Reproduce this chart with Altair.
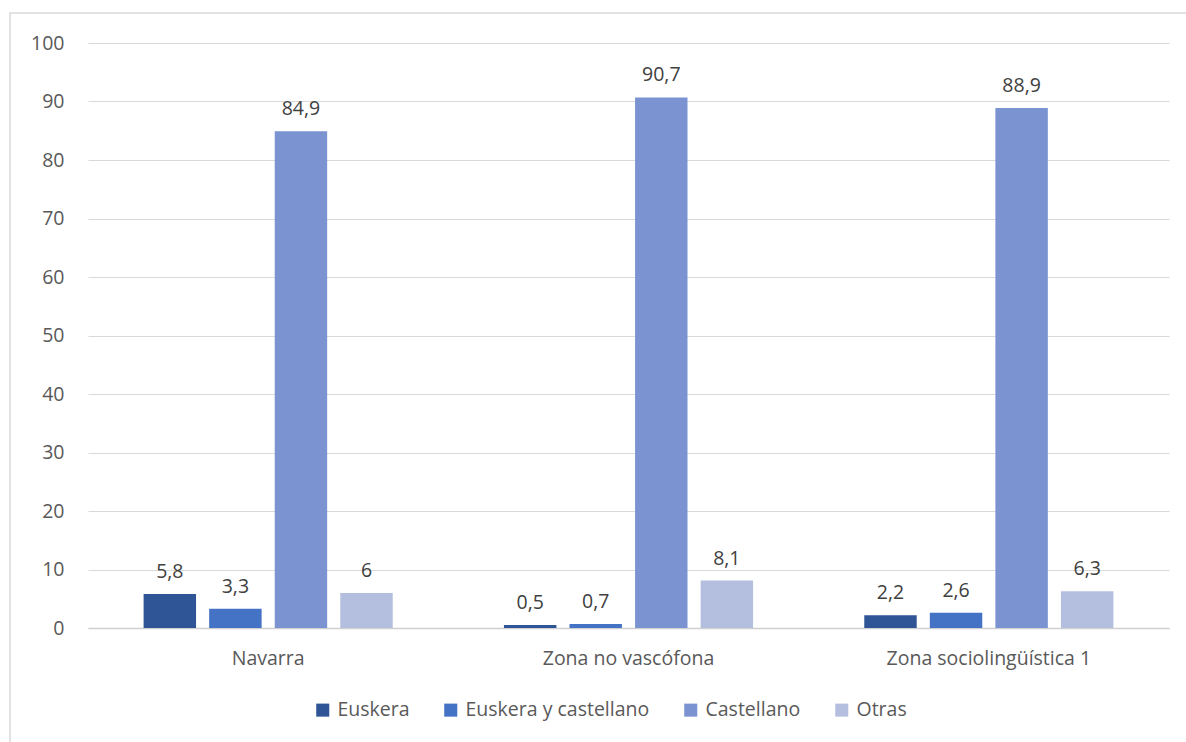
import altair as alt
import pandas as pd

zonas = ["Navarra", "Zona no vascófona", "Zona sociolingüística 1"]
lenguas = ["Euskera", "Euskera y castellano", "Castellano", "Otras"]
euskera = [5.8, 0.5, 2.2]
euskera_cast = [3.3, 0.7, 2.6]
castellano = [84.9, 90.7, 88.9]
otras = [6.0, 8.1, 6.3]
colores = ["#2F5597", "#4472C4", "#7B94D1", "#B4BFE0"]

series = [euskera, euskera_cast, castellano, otras]
rows = []
for li, vals in zip(lenguas, series):
    for z, v in zip(zonas, vals):
        lab = (f"{v:g}").replace(".", ",")
        rows.append({"zona": z, "lengua": li, "valor": v, "label": lab})
df = pd.DataFrame(rows)

W, H = 1081, 585
font = "Open Sans"
FS = 19.5

x = alt.X("zona:N", sort=zonas, title=None,
          scale=alt.Scale(paddingInner=0, paddingOuter=0),
          axis=alt.Axis(labelAngle=0, labelFontSize=FS, labelColor="#595959",
                        labelFont=font, ticks=False, domainColor="#D0D0D0",
                        domainWidth=1.5, labelPadding=21, labelLimit=400))
xo = alt.XOffset("lengua:N", sort=lenguas,
                 scale=alt.Scale(paddingInner=0.2, paddingOuter=0.848))
y = alt.Y("valor:Q", title=None,
          scale=alt.Scale(domain=[0, 100], nice=False),
          axis=alt.Axis(values=list(range(0, 101, 10)), labelFontSize=FS,
                        labelColor="#595959", labelFont=font, domain=False,
                        ticks=False, gridColor="#D9D9D9", labelPadding=24))

bars = alt.Chart(df).mark_bar().encode(
    x=x, xOffset=xo, y=y,
    color=alt.Color("lengua:N", sort=lenguas,
                    scale=alt.Scale(domain=lenguas, range=colores),
                    legend=alt.Legend(title=None, orient="none", direction="horizontal",
                                      legendX=225, legendY=657, labelFontSize=FS,
                                      labelColor="#595959", labelFont=font,
                                      symbolType="square", symbolSize=170,
                                      symbolStrokeWidth=0, columnPadding=31,
                                      labelOffset=5, labelLimit=400)),
)

text = alt.Chart(df).mark_text(baseline="bottom", dy=-12, fontSize=FS,
                               color="#404040", font=font).encode(
    x=alt.X("zona:N", sort=zonas), xOffset=alt.XOffset("lengua:N", sort=lenguas),
    y="valor:Q", text="label:N")

border = alt.Chart(pd.DataFrame({"a": [0]})).mark_rect(
    fill=None, stroke="#D9D9D9", strokeWidth=1.5).encode(
    x=alt.value(-78), x2=alt.value(W + 60), y=alt.value(-30), y2=alt.value(H + 200))

chart = alt.layer(border, bars, text).properties(
    width=W, height=H,
    autosize=alt.AutoSizeParams(type="none"),
    padding={"left": 88, "top": 43, "right": 17, "bottom": 114},
).configure(background="white").configure_view(stroke=None)

chart.save("out.html", embed_options={"renderer": "svg", "actions": False})
